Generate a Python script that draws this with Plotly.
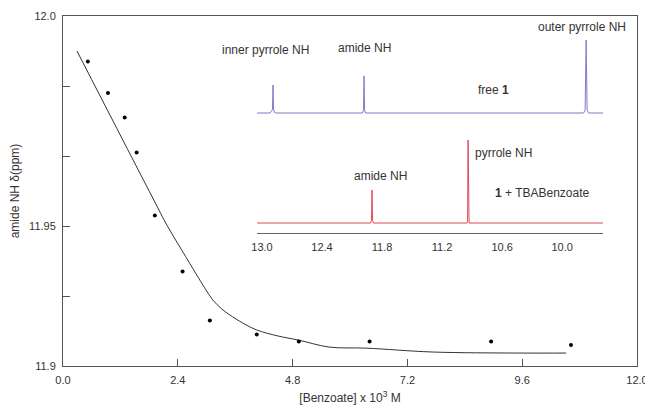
import plotly.graph_objects as go

# Titration data: [Benzoate] x 10^3 M vs amide NH shift (ppm)
conc = [0.52, 0.94, 1.29, 1.54, 1.92, 2.50, 3.07, 4.05, 4.93, 6.41, 8.95, 10.62]
shift = [11.987, 11.978, 11.971, 11.961, 11.943, 11.927, 11.913, 11.909, 11.907, 11.907, 11.907, 11.906]

# Fitted curve
fit_conc = [0.292, 1.899, 2.170, 2.483, 2.797, 2.963, 3.130, 3.318, 3.485, 3.756, 4.049, 4.487,
            4.925, 5.572, 6.344, 7.722, 9.537, 10.518]
fit_shift = [11.9900, 11.9474, 11.9403, 11.9331, 11.9260, 11.9223, 11.9189, 11.9163, 11.9146,
             11.9123, 11.9103, 11.9086, 11.9074, 11.9054, 11.9051, 11.9040, 11.9037, 11.9037]

# Main axis ticks
x_ticks = [0.0, 2.4, 4.8, 7.2, 9.6, 12.0]
x_tick_labels = ["0.0", "2.4", "4.8", "7.2", "9.6", "12.0"]
y_ticks = [11.90, 11.94, 12.00]
y_tick_labels = ["11.9", "11.95", "12.0"]
y_minor_step = 0.02

# Inset NMR spectra (ppm, relative intensity)
blue_ppm = [13.05, 12.92, 12.90, 12.895, 12.89, 12.885, 12.875, 12.86,
            11.995, 11.985, 11.98, 11.975, 11.965,
            9.785, 9.77, 9.76, 9.75, 9.735, 9.59]
blue_int = [0.553, 0.553, 0.565, 0.572, 0.682, 0.570, 0.556, 0.553,
            0.553, 0.568, 0.724, 0.568, 0.553,
            0.553, 0.568, 0.889, 0.566, 0.553, 0.553]
red_ppm = [13.05, 11.915, 11.905, 11.90, 11.895, 11.885,
           10.95, 10.945, 10.94, 10.935, 10.93, 9.59]
red_int = [0.046, 0.046, 0.058, 0.198, 0.058, 0.046,
           0.046, 0.052, 0.429, 0.052, 0.046, 0.046]
ppm_ticks = [13.0, 12.4, 11.8, 11.2, 10.6, 10.0]
ppm_tick_labels = ["13.0", "12.4", "11.8", "11.2", "10.6", "10.0"]

FONT = "Liberation Sans, Arial, sans-serif"
AX = "#555555"
TXT = "#333333"

fig = go.Figure()
fig.add_trace(go.Scatter(x=fit_conc, y=fit_shift, mode="lines",
                         line=dict(color="#333333", width=1, shape="spline", smoothing=1.0),
                         hoverinfo="skip", showlegend=False))
fig.add_trace(go.Scatter(x=conc, y=shift, mode="markers",
                         marker=dict(color="black", size=4), showlegend=False))
fig.add_trace(go.Scatter(x=blue_ppm, y=blue_int, mode="lines", xaxis="x2", yaxis="y2",
                         line=dict(color="#7b7bc8", width=1), showlegend=False))
fig.add_trace(go.Scatter(x=red_ppm, y=red_int, mode="lines", xaxis="x2", yaxis="y2",
                         line=dict(color="#e0485a", width=1), showlegend=False))

def pa(text, x, y, anchor="center", size=12):
    return dict(text=text, x=x, y=y, xref="x2", yref="y2", showarrow=False,
                xanchor=anchor, yanchor="middle", font=dict(size=size, color=TXT, family=FONT))

annotations = [
    pa("inner pyrrole NH", 12.97, 0.843),
    pa("amide NH", 11.98, 0.853),
    pa("outer pyrrole NH", 9.80, 0.949),
    pa("free <b>1</b>", 10.69, 0.659),
    pa("pyrrole NH", 10.89, 0.369, "left"),
    pa("amide NH", 11.82, 0.263),
    pa("<b>1</b> + TBABenzoate", 10.20, 0.184),
    pa("ppm", 9.64, -0.064, size=11),
]

# page body adds an 8px offset, so the figure is sized to fit inside the window
fig.update_layout(
    width=645, height=406,
    margin=dict(l=55, r=16, t=8, b=48, autoexpand=False),
    paper_bgcolor="white", plot_bgcolor="white",
    font=dict(family=FONT, size=11, color=TXT),
    xaxis=dict(range=[0, 12], tickvals=x_ticks, ticktext=x_tick_labels,
               ticks="inside", ticklen=7, tickcolor=AX, showline=True, linecolor=AX,
               linewidth=1, mirror=True, showgrid=False, zeroline=False,
               ticklabelstandoff=4, automargin=False,
               title=dict(text="[Benzoate] x 10<sup>3</sup> M", font=dict(size=12), standoff=8)),
    yaxis=dict(range=[11.90, 12.00], tickvals=y_ticks, ticktext=y_tick_labels,
               ticks="inside", ticklen=7, tickcolor=AX, showline=True, linecolor=AX,
               linewidth=1, mirror=True, showgrid=False, zeroline=False,
               ticklabelstandoff=4, automargin=False,
               minor=dict(tick0=11.90, dtick=y_minor_step, ticks="inside", ticklen=7,
                          tickcolor=AX, showgrid=False),
               title=dict(text="amide NH δ(ppm)", font=dict(size=12), standoff=8)),
    xaxis2=dict(domain=[0.338, 0.941], anchor="y2", range=[13.05, 9.59],
                tickvals=ppm_ticks, ticktext=ppm_tick_labels, ticks="",
                showline=True, linecolor="#666666", linewidth=1, showgrid=False,
                zeroline=False, ticklabelstandoff=4, automargin=False),
    yaxis2=dict(domain=[0.38, 1.0], anchor="x2", range=[0, 1], visible=False),
    annotations=annotations,
)

fig.write_html("out.html")
